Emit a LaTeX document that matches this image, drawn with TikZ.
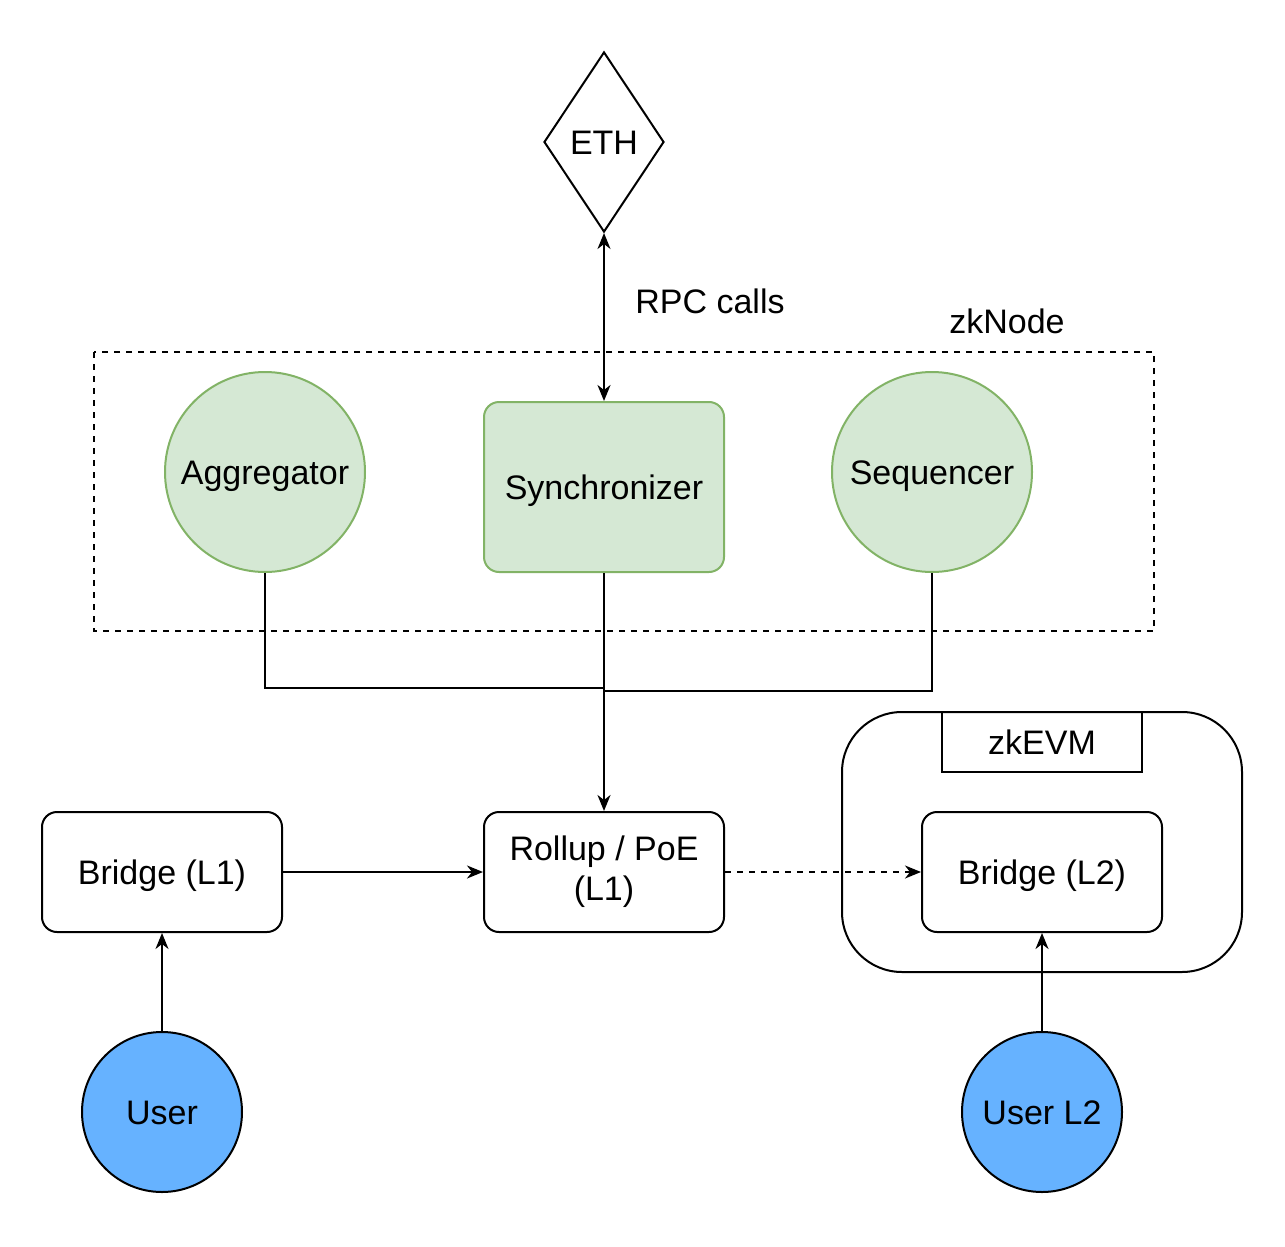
\documentclass[tikz,border=0pt]{standalone}
\usepackage{fontspec}
\setmainfont{Liberation Sans}
\usetikzlibrary{shapes.geometric,arrows.meta}
\definecolor{greenfill}{HTML}{D5E8D4}
\definecolor{greenline}{HTML}{82B366}
\definecolor{userblue}{HTML}{66B2FF}

\begin{document}
\begin{tikzpicture}
  [x=0.5pt,y=-0.5pt,line width=1pt,>={Stealth[length=8pt,width=6.5pt,inset=2.5pt]},
   every node/.style={font=\fontsize{17}{20}\selectfont,inner sep=0pt},
   mid/.style={text height=12.2pt,text depth=0pt},
   box/.style={draw,rounded corners=7.5pt,minimum width=120pt,minimum height=60pt,align=center},
   comp/.style={circle,draw=greenline,fill=greenfill,minimum size=100pt,mid},
   user/.style={circle,draw,fill=userblue,minimum size=80pt,mid}]
  \useasboundingbox (0,0) rectangle (1285,1247);
  % top
  \node[diamond,draw,minimum width=60pt,minimum height=90pt,mid] (eth) at (604,142) {ETH};
  \node (rpc) at (710,301) {RPC calls};
  % zkNode
  \node (zknode) at (1007,321) {zkNode};
  \draw[dash pattern=on 3pt off 3pt] (94,352) rectangle (1154,631);
  \node[comp] (agg) at (265,472) {Aggregator};
  \node[box,fill=greenfill,draw=greenline,minimum height=85pt,mid] (sync) at (604,487) {Synchronizer};
  \node[comp] (seq) at (932,472) {Sequencer};
  % zkEVM
  \node[draw,rounded corners=30pt,minimum width=200pt,minimum height=130pt] (zkevm) at (1042,842) {};
  \node[draw,minimum width=100pt,minimum height=30pt,mid] (zkevmlbl) at (1042,742) {zkEVM};
  % bottom row
  \node[box,mid] (bridgeA) at (162,872) {Bridge (L1)};
  \node[box] (rollup) at (604,872) {Rollup / PoE\\(L1)};
  \node[box,mid] (bridgeB) at (1042,872) {Bridge (L2)};
  \node[user] (userA) at (162,1112) {User};
  \node[user] (userB) at (1042,1112) {User L2};
  \coordinate (ja) at (604,688);
  \coordinate (jb) at (604,691);
  \draw[<->] (eth.south) -- (sync.north);
  \draw (agg.south) |- (ja);
  \draw (seq.south) |- (jb);
  \draw[->] (sync.south) -- (rollup.north);
  \draw[->,dash pattern=on 3pt off 3pt] (rollup) -- (bridgeB);
    \foreach \from/\to in {bridgeA/rollup,userA/bridgeA,userB/bridgeB}
    \draw[->] (\from) -- (\to);
\end{tikzpicture}
\end{document}
